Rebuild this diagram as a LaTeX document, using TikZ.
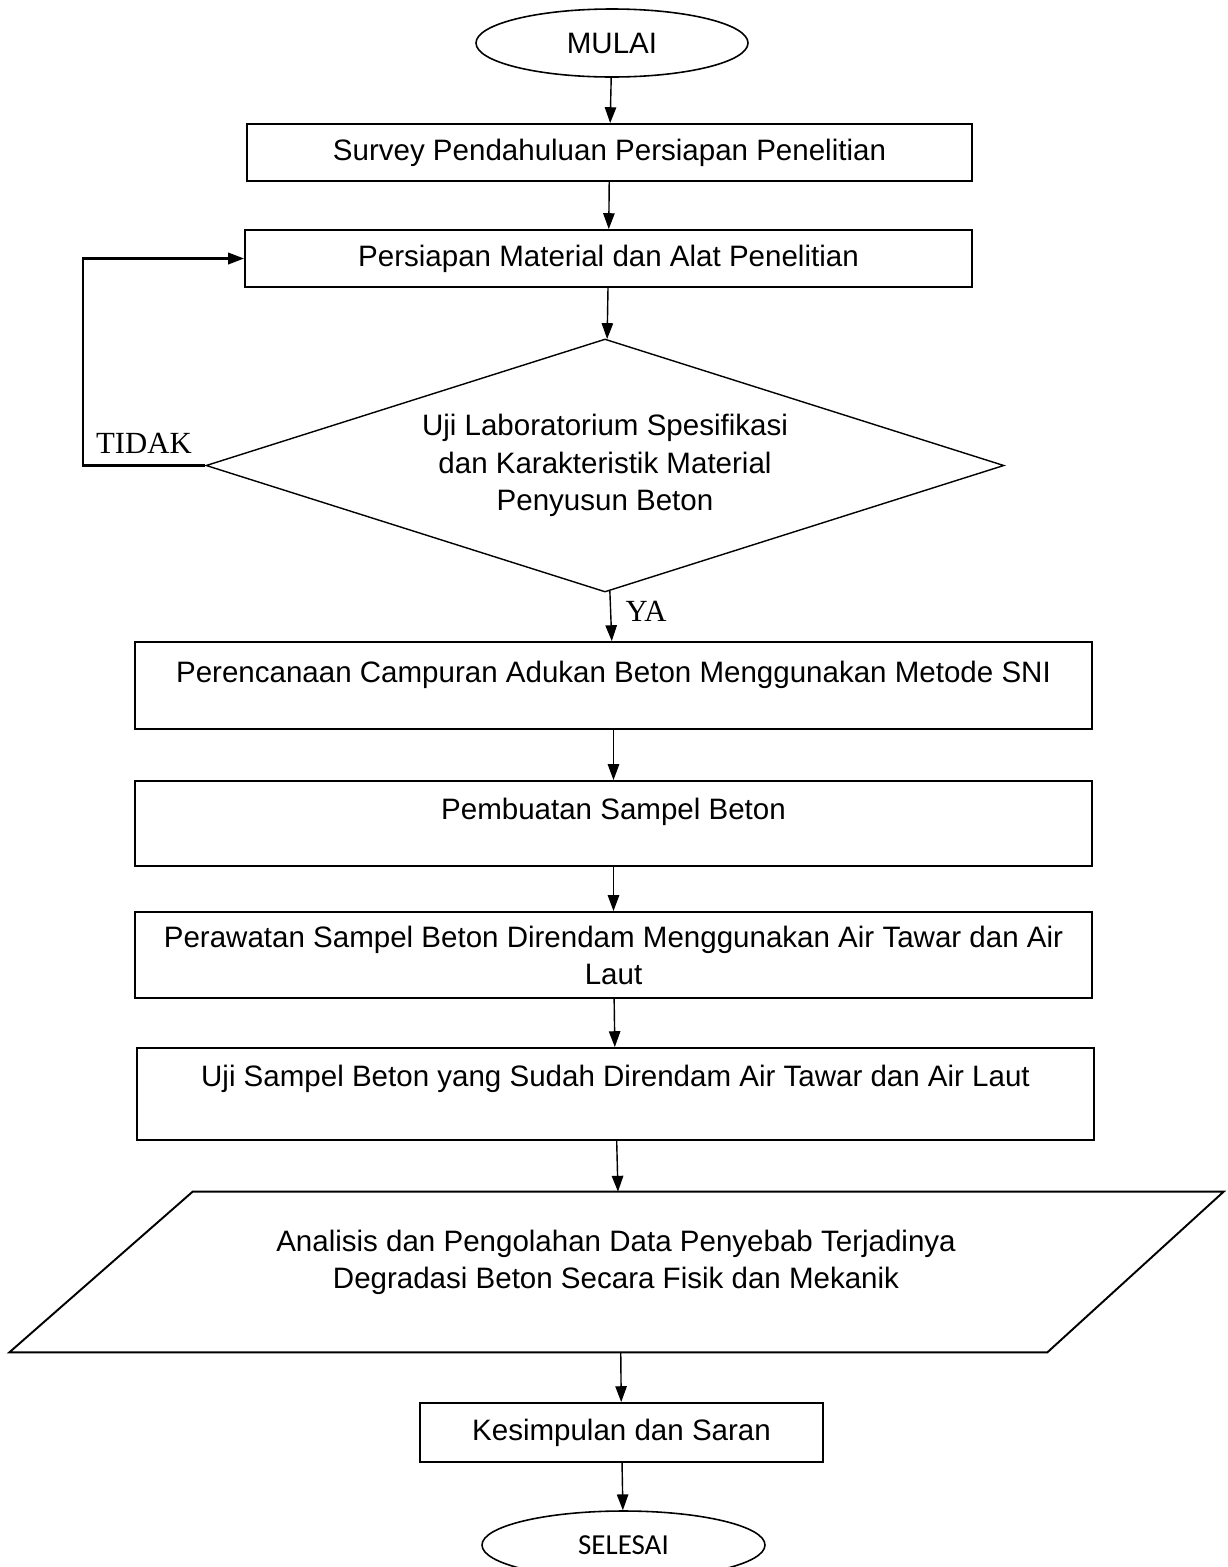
\documentclass[tikz,border=0pt]{standalone}
\usepackage{fontspec}
\setmainfont{Liberation Sans}
\newfontfamily\hurufserif{Liberation Serif}
\newfontfamily\hurufkalibri{Carlito}
\usetikzlibrary{shapes.geometric,arrows.meta}

\begin{document}
\begin{tikzpicture}[
    font=\fontsize{16.8}{21}\selectfont,
    kotak/.style={draw, line width=1.1pt, rectangle, align=center, inner sep=0pt},
    terminal/.style={draw, line width=0.9pt, ellipse, inner sep=0pt, minimum height=1.36cm},
    panah/.style={-{Triangle[length=9pt,width=6.5pt]}, line width=0.8pt},
    jawaban/.style={font=\hurufserif\fontsize{17.5}{20}\selectfont}
]
    % Batas gambar
    \useasboundingbox (0,0) rectangle (24.56,-31.34);

    % Mulai
    \node[terminal, minimum width=5.44cm] (mulai) at (12.24,-0.86) {MULAI};

    % Persiapan
    \node[kotak, minimum width=14.5cm, minimum height=1.14cm] (survey) at (12.19,-3.05)
        {Survey Pendahuluan Persiapan Penelitian};
    \node[kotak, minimum width=14.54cm, minimum height=1.14cm] (persiapan) at (12.17,-5.17)
        {Persiapan Material dan Alat Penelitian};

    % Uji material
    \node[diamond, draw, line width=0.8pt, inner sep=0pt, align=center, aspect=3.15,
          minimum width=15.96cm, minimum height=5.06cm,
          font=\fontsize{16.8}{21.3}\selectfont] (ujimaterial) at (12.1,-9.31)
        {Uji Laboratorium Spesifikasi\\dan Karakteristik Material\\Penyusun Beton};

    % Proses beton
    \node[kotak, minimum width=19.14cm, minimum height=1.74cm] (campuran) at (12.27,-13.71)
        {Perencanaan Campuran Adukan Beton Menggunakan Metode SNI\\[-5pt]~};
    \node[kotak, minimum width=19.14cm, minimum height=1.7cm] (pembuatan) at (12.27,-16.47)
        {Pembuatan Sampel Beton\\[-4pt]~};
    \node[kotak, minimum width=19.14cm, minimum height=1.72cm] (perawatan) at (12.27,-19.1)
        {Perawatan Sampel Beton Direndam Menggunakan Air Tawar dan Air\\Laut};
    \node[kotak, minimum width=19.14cm, minimum height=1.84cm] (ujisampel) at (12.31,-21.88)
        {Uji Sampel Beton yang Sudah Direndam Air Tawar dan Air Laut\\[-0.5pt]~};

    % Analisis (jajaran genjang)
    \node[minimum width=17.08cm, minimum height=3.2cm, inner sep=0pt] (analisis) at (12.4,-25.44) {};
    \draw[line width=1.1pt] (analisis.north west) -- ++(20.62,0) -- (analisis.south east)
        -- ++(-20.76,0) -- cycle;
    \node[align=center] (analisisteks) at (12.32,-25.24)
        {Analisis dan Pengolahan Data Penyebab Terjadinya\\Degradasi Beton Secara Fisik dan Mekanik};

    % Akhir
    \node[kotak, minimum width=8.06cm, minimum height=1.18cm] (kesimpulan) at (12.43,-28.65)
        {Kesimpulan dan Saran};
    \node[terminal, minimum width=5.66cm, font=\hurufkalibri\fontsize{16.5}{20}\selectfont]
        (selesai) at (12.47,-30.9) {SELESAI};

    % Panah
    \draw[panah] (mulai) -- (survey);
    \draw[panah] (survey) -- (persiapan);
    \draw[panah] (persiapan) -- (ujimaterial);
    \draw[panah] (ujimaterial) -- (campuran);
    \draw[panah] (campuran) -- (pembuatan);
    \draw[panah] (pembuatan) -- (perawatan);
    \draw[panah] (perawatan) -- (ujisampel);
    \draw[panah] (ujisampel) -- (analisis);
    \draw[panah] (analisis) -- (kesimpulan);
    \draw[panah] (kesimpulan) -- (selesai);

    % Kembali jika tidak
    \coordinate (belok) at (1.66,-9.3);
    \draw[panah, line width=1.2pt] (ujimaterial.west) -- (ujimaterial.west -| belok)
        -- (persiapan.west -| belok) -- (persiapan.west);

    % Label
    \node[jawaban] (tidak) at (2.88,-8.86) {TIDAK};
    \node[jawaban] (ya) at (12.92,-12.22) {YA};
\end{tikzpicture}
\end{document}
